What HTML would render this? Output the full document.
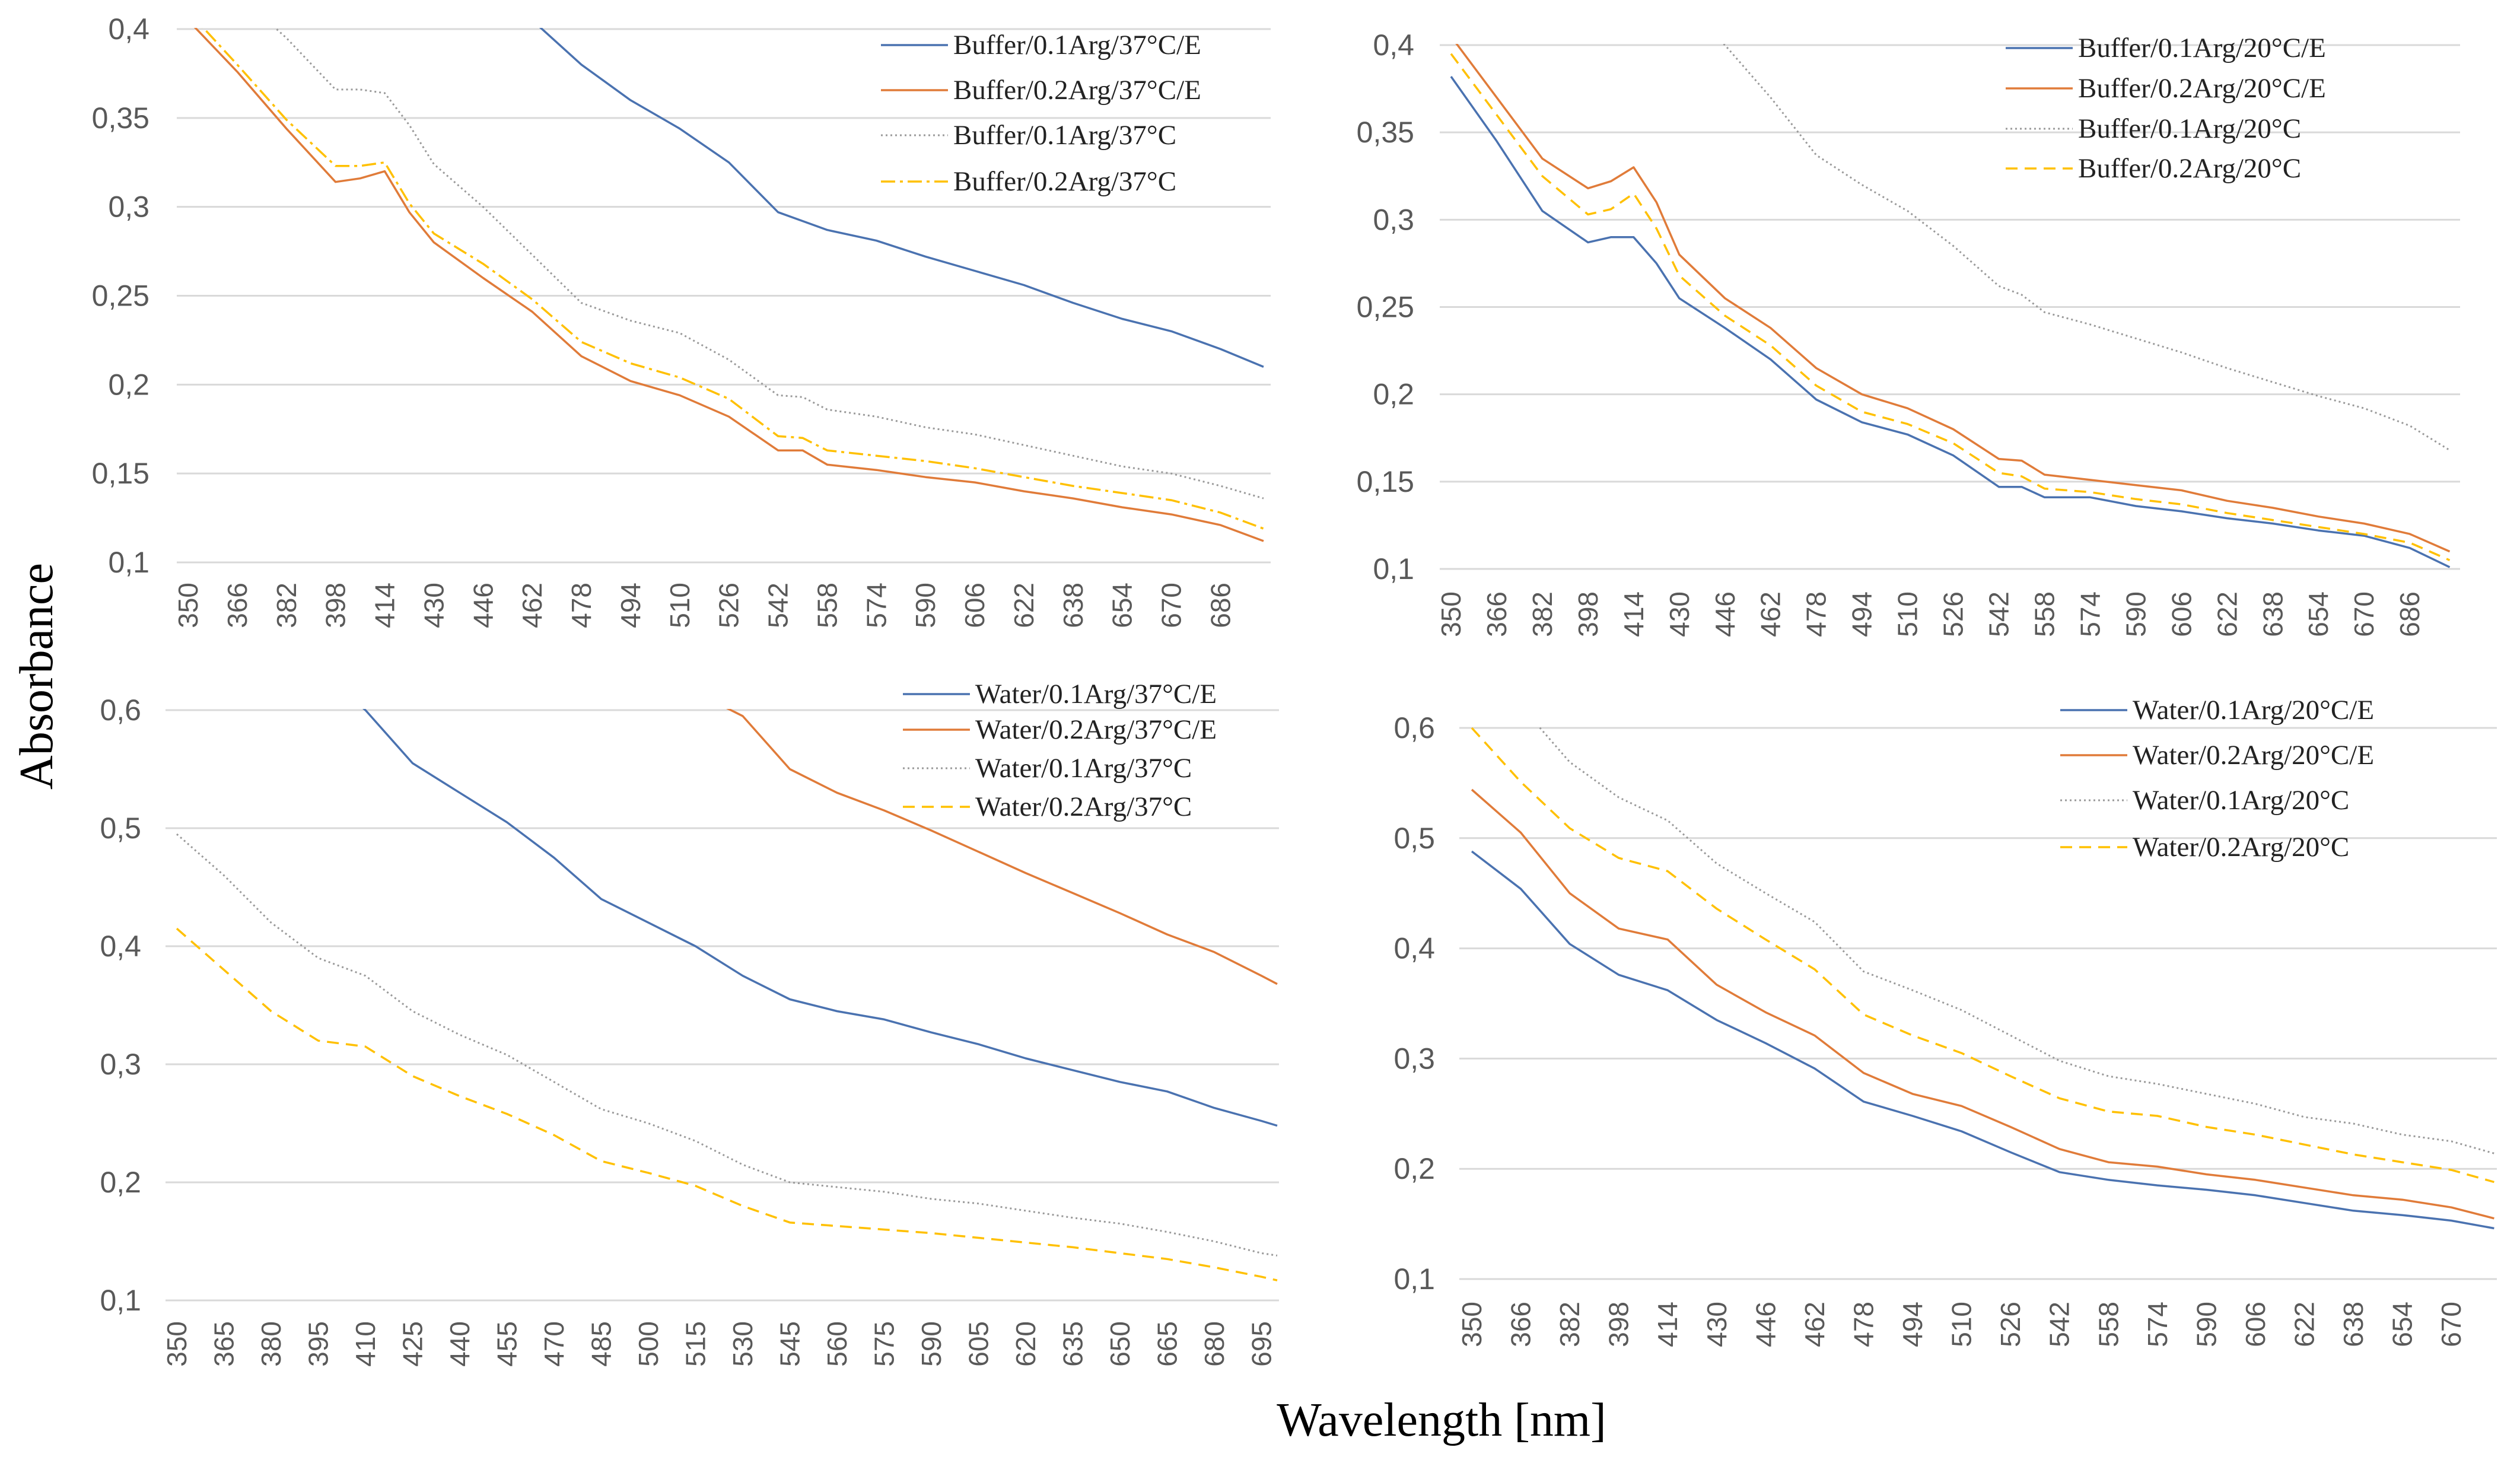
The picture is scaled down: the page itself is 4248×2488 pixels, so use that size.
<!DOCTYPE html>
<html><head><meta charset="utf-8"><style>
html,body{margin:0;padding:0;background:#fff;}
svg{display:block;}
</style></head><body>
<svg id="chart" width="4248" height="2488" viewBox="0 0 4248 2488" xmlns="http://www.w3.org/2000/svg">
<text x="0" y="0" transform="translate(88,1140) rotate(-90)" text-anchor="middle" font-family="Liberation Serif, serif" font-size="80" fill="#000">Absorbance</text>
<text x="2430" y="2420" text-anchor="middle" font-family="Liberation Serif, serif" font-size="80" fill="#000">Wavelength [nm]</text>
</svg>
<script>
// ---------- data ----------
const tlWave = [350,366,382,398,406,414,422,430,446,462,478,494,510,526,542,550,558,574,590,606,622,638,654,670,686,700];
const tlBufE01 = [0.52,0.50,0.48,0.46,0.45,0.445,0.44,0.435,0.42,0.405,0.38,0.36,0.344,0.325,0.297,0.292,0.287,0.281,0.272,0.264,0.256,0.246,0.237,0.23,0.22,0.21];
const tlBufE02 = [0.405,0.376,0.344,0.314,0.316,0.32,0.297,0.28,0.26,0.241,0.216,0.202,0.194,0.182,0.163,0.163,0.155,0.152,0.148,0.145,0.14,0.136,0.131,0.127,0.121,0.112];
const tlBuf01 = [0.44,0.42,0.395,0.366,0.366,0.364,0.346,0.324,0.3,0.273,0.246,0.236,0.229,0.214,0.194,0.193,0.186,0.182,0.176,0.172,0.166,0.16,0.154,0.15,0.143,0.136];
const tlBuf02 = [0.41,0.38,0.349,0.323,0.323,0.325,0.302,0.285,0.268,0.248,0.224,0.212,0.204,0.192,0.171,0.17,0.163,0.16,0.157,0.153,0.148,0.143,0.139,0.135,0.128,0.119];

const trWave = [350,366,382,398,406,414,422,430,446,462,478,494,510,526,542,550,558,574,590,606,622,638,654,670,686,700];
const trBufE01 = [0.382,0.345,0.305,0.287,0.29,0.29,0.275,0.255,0.238,0.22,0.197,0.184,0.177,0.165,0.147,0.147,0.141,0.141,0.136,0.133,0.129,0.126,0.122,0.119,0.112,0.101];
const trBufE02 = [0.405,0.37,0.335,0.318,0.322,0.33,0.31,0.28,0.255,0.238,0.215,0.2,0.192,0.18,0.163,0.162,0.154,0.151,0.148,0.145,0.139,0.135,0.13,0.126,0.12,0.11];
const trBuf01 = [0.53,0.5,0.475,0.46,0.45,0.44,0.43,0.42,0.4,0.37,0.337,0.32,0.305,0.285,0.262,0.257,0.247,0.24,0.232,0.224,0.215,0.207,0.199,0.192,0.182,0.168];
const trBuf02 = [0.395,0.36,0.325,0.303,0.306,0.315,0.295,0.268,0.245,0.228,0.205,0.19,0.183,0.172,0.155,0.153,0.146,0.144,0.14,0.137,0.132,0.128,0.124,0.12,0.115,0.105];

const blWave = [350,365,380,395,410,425,440,455,470,485,500,515,530,545,560,575,590,605,620,635,650,665,680,695,700];
const blWatE01 = [0.75,0.71,0.67,0.635,0.6,0.555,0.53,0.505,0.475,0.44,0.42,0.4,0.375,0.355,0.345,0.338,0.327,0.317,0.305,0.295,0.285,0.277,0.263,0.252,0.248];
const blWatE02 = [0.85,0.82,0.79,0.76,0.735,0.715,0.7,0.68,0.66,0.645,0.63,0.615,0.595,0.55,0.53,0.515,0.498,0.48,0.462,0.445,0.428,0.41,0.395,0.375,0.368];
const blWat01 = [0.495,0.46,0.42,0.39,0.375,0.345,0.325,0.308,0.285,0.262,0.25,0.235,0.215,0.2,0.196,0.192,0.186,0.182,0.176,0.17,0.165,0.158,0.15,0.14,0.138];
const blWat02 = [0.415,0.38,0.345,0.32,0.315,0.29,0.273,0.258,0.24,0.218,0.208,0.197,0.18,0.166,0.163,0.16,0.157,0.153,0.149,0.145,0.14,0.135,0.128,0.12,0.117];

const brWave = [350,366,382,398,414,430,446,462,478,494,510,526,542,558,574,590,606,622,638,654,670,684];
const brWatE01 = [0.488,0.454,0.404,0.376,0.362,0.335,0.314,0.291,0.261,0.248,0.234,0.215,0.197,0.19,0.185,0.181,0.176,0.169,0.162,0.158,0.153,0.146];
const brWatE02 = [0.544,0.505,0.45,0.418,0.408,0.367,0.342,0.321,0.287,0.268,0.257,0.238,0.218,0.206,0.202,0.195,0.19,0.183,0.176,0.172,0.165,0.155];
const brWat01 = [0.66,0.62,0.569,0.537,0.516,0.477,0.45,0.424,0.379,0.362,0.344,0.321,0.298,0.284,0.277,0.268,0.259,0.247,0.241,0.231,0.225,0.214];
const brWat02 = [0.6,0.551,0.509,0.482,0.47,0.436,0.408,0.381,0.34,0.321,0.305,0.284,0.264,0.252,0.248,0.238,0.231,0.222,0.213,0.206,0.199,0.188];

const tlLabels = ["Buffer/0.1Arg/37°C/E","Buffer/0.2Arg/37°C/E","Buffer/0.1Arg/37°C","Buffer/0.2Arg/37°C"];
const trLabels = ["Buffer/0.1Arg/20°C/E","Buffer/0.2Arg/20°C/E","Buffer/0.1Arg/20°C","Buffer/0.2Arg/20°C"];
const blLabels = ["Water/0.1Arg/37°C/E","Water/0.2Arg/37°C/E","Water/0.1Arg/37°C","Water/0.2Arg/37°C"];
const brLabels = ["Water/0.1Arg/20°C/E","Water/0.2Arg/20°C/E","Water/0.1Arg/20°C","Water/0.2Arg/20°C"];

const tlYTicks = [0.1,0.15,0.2,0.25,0.3,0.35,0.4];
const blYTicks = [0.1,0.2,0.3,0.4,0.5,0.6];

// ---------- rendering ----------
const NS = "http://www.w3.org/2000/svg";
const svg = document.getElementById('chart');
function mk(tag, attrs, parent){const e=document.createElementNS(NS,tag);for(const k in attrs)e.setAttribute(k,attrs[k]);(parent||svg).appendChild(e);return e;}
const styles = [
  {stroke:"#4a72b0", dash:null, w:3.5},
  {stroke:"#e07b39", dash:null, w:3.5},
  {stroke:"#9a9a9a", dash:"3 5", w:3},
  {stroke:"#ffc000", dash:"20 12", w:3.5}
];
function panel(cfg){
  const g = mk('g',{});
  
  
  const xs = nm => cfg.x0 + (nm-350)*cfg.pxnm;
  const ys = v => cfg.yTop + (cfg.yMax - v)/(cfg.yMax-cfg.yMin)*(cfg.yBot-cfg.yTop);
  const clipId = cfg.name+'-clip';
  const cp = mk('clipPath',{id:clipId},g);
  mk('rect',{x:cfg.left,y:cfg.yTop-2,width:cfg.right-cfg.left,height:cfg.yBot-cfg.yTop+4},cp);
  cfg.yTicks.forEach(t=>{
    const gl = mk('line',{x1:cfg.left,x2:cfg.right,y1:ys(t),y2:ys(t),stroke:"#d9d9d9","stroke-width":3},g);
    
    
    const tl = mk('text',{x:cfg.yLabX,y:ys(t)+17,"text-anchor":"end","font-family":"Liberation Sans, sans-serif","font-size":50,fill:"#595959"},g);
    
    
    tl.textContent = String(t).replace('.',',');
  });
  for(let nm=350; nm<=cfg.lastTick; nm+=cfg.step){
    const x = xs(nm)+16;
    const t = mk('text',{x:0,y:0,transform:`translate(${x},${cfg.xLabY}) rotate(-90)`,"text-anchor":"end","font-family":"Liberation Sans, sans-serif","font-size":46,fill:"#595959"},g);
    
    
    t.textContent = nm;
  }
  const lg = mk('g',{"clip-path":`url(#${clipId})`},g);
  cfg.series.forEach((s,i)=>{
    const st = styles[i];
    const pts = cfg.wave.map((w,j)=>xs(w).toFixed(1)+','+ys(s[j]).toFixed(1)).join(' ');
    const a = {points:pts,fill:"none",stroke:st.stroke,"stroke-width":st.w,"stroke-linejoin":"round"};
    const dash = (i===3 && cfg.dashDot) ? "24 8 5 8" : st.dash;
    if(dash) a["stroke-dasharray"]=dash;
    const pl = mk('polyline',a,lg);
    
    
    const ly = cfg.legY[i];
    const la = {x1:cfg.legX,x2:cfg.legX+113,y1:ly,y2:ly,stroke:st.stroke,"stroke-width":st.w};
    if(dash) la["stroke-dasharray"]=dash;
    const ll = mk('line',la,g);
    
    
    const lt = mk('text',{x:cfg.legX+122,y:ly+15,"font-family":"Liberation Serif, serif","font-size":47,fill:"#222"},g);
    
    
    lt.textContent = cfg.labels[i];
  });
}
panel({name:'panel-buffer-37c',wave:tlWave,series:[tlBufE01,tlBufE02,tlBuf01,tlBuf02],labels:tlLabels,
  x0:317,pxnm:5.18,left:298,right:2142,yTop:49,yBot:948,yMin:0.1,yMax:0.4,yTicks:tlYTicks,yLabX:252,
  step:16,lastTick:686,xLabY:982,legX:1485,legY:[76,152,228,306],dashDot:true});
panel({name:'panel-buffer-20c',wave:trWave,series:[trBufE01,trBufE02,trBuf01,trBuf02],labels:trLabels,
  x0:2446,pxnm:4.81,left:2427,right:4147,yTop:76,yBot:959,yMin:0.1,yMax:0.4,yTicks:tlYTicks,yLabX:2384,
  step:16,lastTick:686,xLabY:997,legX:3381,legY:[81,149,217,284]});
panel({name:'panel-water-37c',wave:blWave,series:[blWatE01,blWatE02,blWat01,blWat02],labels:blLabels,
  x0:298,pxnm:5.30,left:279,right:2156,yTop:1197,yBot:2192,yMin:0.1,yMax:0.6,yTicks:blYTicks,yLabX:238,
  step:15,lastTick:695,xLabY:2227,legX:1522,legY:[1170,1230,1295,1360]});
panel({name:'panel-water-20c',wave:brWave,series:[brWatE01,brWatE02,brWat01,brWat02],labels:brLabels,
  x0:2481,pxnm:5.16,left:2460,right:4209,yTop:1227,yBot:2156,yMin:0.1,yMax:0.6,yTicks:blYTicks,yLabX:2419,
  step:16,lastTick:670,xLabY:2194,legX:3473,legY:[1197,1273,1349,1428]});
</script>
</body></html>
